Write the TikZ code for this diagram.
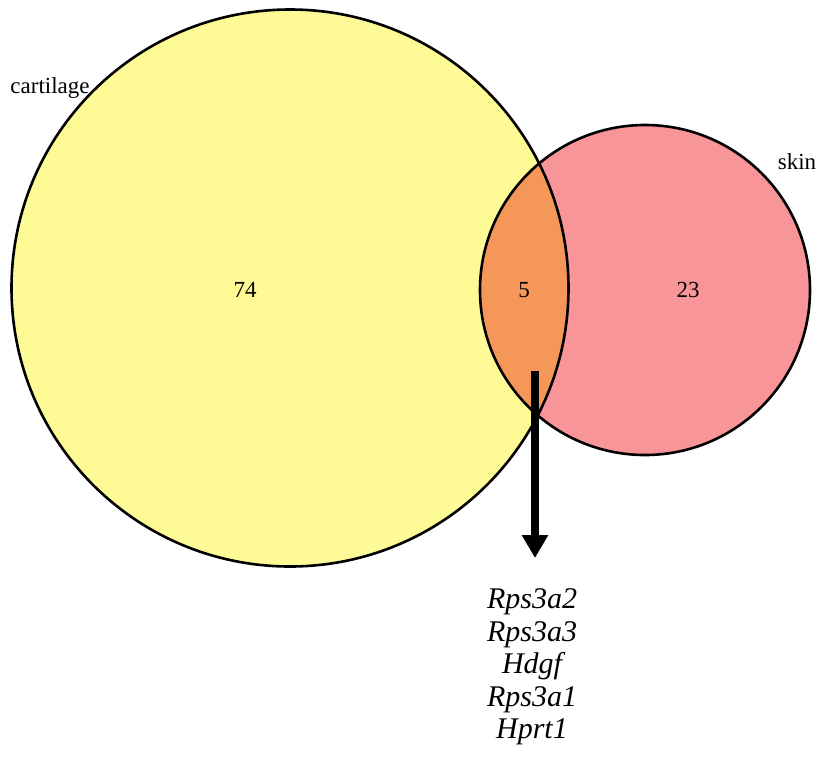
\documentclass[tikz,border=0pt]{standalone}
\usepackage{fontspec}
\setmainfont{Liberation Serif}
\usepackage{tikz}
\usetikzlibrary{arrows.meta}

\definecolor{cartyellow}{RGB}{254,250,150}
\definecolor{skinpink}{RGB}{248,149,152}
\definecolor{overlaporange}{RGB}{246,151,90}

\tikzset{
  setcircle/.style={circle, draw, line width=2.6pt, inner sep=0pt},
  setlabel/.style={font=\fontsize{23}{27}\selectfont},
  genelist/.style={align=center, font=\fontsize{30}{32.5}\selectfont\itshape}
}

\begin{document}
\begin{tikzpicture}[x=1pt,y=1pt,>=Latex]
    \useasboundingbox (0,0) rectangle (819,-761);
    % Fills
    \fill[cartyellow] (290,-288) circle (278.5);
    \fill[skinpink] (645,-290) circle (165);
    \begin{scope}
        \clip (290,-288) circle (278.5);
        \fill[overlaporange] (645,-290) circle (165);
    \end{scope}
    % Circles
    \node[setcircle, minimum size=557pt] (cartilage) at (290,-288) {};
    \node[setcircle, minimum size=330pt] (skin) at (645,-290) {};

    % Set names
    \node[setlabel] (cartname) at (50,-88) {cartilage};
    \node[setlabel] (skinname) at (797,-162) {skin};

    % Counts
    \node[setlabel] (onlycart) at (245,-290) {74};
    \node[setlabel] (both) at (524,-290) {5};
    \node[setlabel] (onlyskin) at (688,-290) {23};

    % Arrow to the shared genes
    \coordinate (arrowtop) at (535,-371);
    \coordinate (arrowtip) at (535,-558);
    \draw[line width=7.5pt, -{Triangle[length=23pt,width=25pt]}] (arrowtop) -- (arrowtip);

    \node[genelist] (genes) at (532,-667) {Rps3a2\\Rps3a3\\Hdgf\\Rps3a1\\Hprt1};
\end{tikzpicture}
\end{document}
